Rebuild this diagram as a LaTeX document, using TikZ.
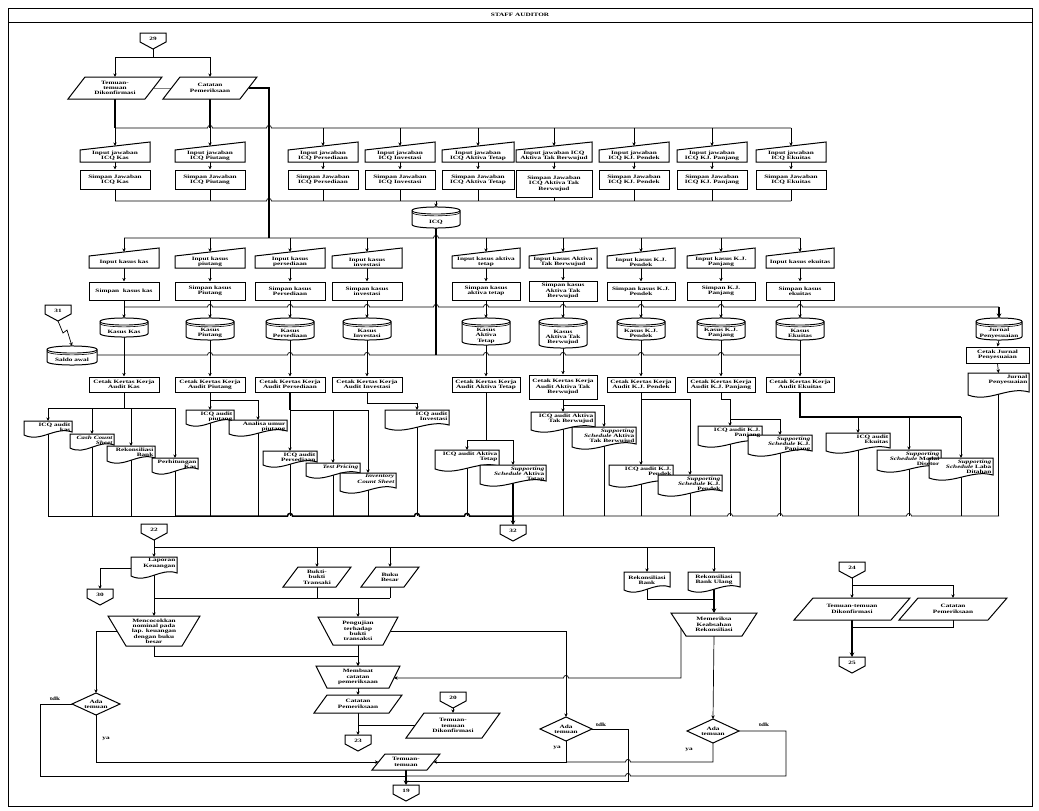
\documentclass[tikz,border=0pt]{standalone}
\usepackage{fontspec}
\setmainfont{Liberation Serif}[FakeStretch=1.45]
\usetikzlibrary{arrows.meta,calc}
\pgfdeclarelayer{bg}
\pgfdeclarelayer{fg}
\pgfsetlayers{bg,main,fg}
\newcommand{\dfont}{\fontsize{5}{5.3}\selectfont\bfseries}
\tikzset{
 ln/.style={line width=0.7pt},
 arr/.style={ln,-{Stealth[length=3.6pt,width=3.4pt]}},
 thk/.style={line width=1.5pt},
 tarr/.style={thk,-{Stealth[length=4.5pt,width=4.5pt]}},
 shpp/.style={draw,fill=white,line width=1pt,line join=miter},
 txt/.style={font=\dfont,align=center,inner sep=0pt},
 lbl/.style={font=\dfont,inner sep=0pt},
}
% process box
\newcommand{\PBox}[6]{\node[shpp,txt,minimum width={(#4-#2)*1pt},minimum height={(#5-#3)*1pt}] (#1) at ({(#2+#4)/2},{(#3+#5)/2}) {#6};}
% manual input
\newcommand{\MIn}[6]{%
 \filldraw[shpp] (#2,{#3+8}) -- (#4,#3) -- (#4,#5) -- (#2,#5) -- cycle;
 \node[txt] (#1) at ({(#2+#4)/2},{(#3+8+#5)/2}) {#6};
 \coordinate (#1-t) at ({(#2+#4)/2},{#3+4});
 \coordinate (#1-b) at ({(#2+#4)/2},#5);}
% documents
\newcommand{\DocShape}[4]{\filldraw[shpp] (#1,#2) -- (#3,#2) -- (#3,{#4-6}) .. controls ({#3-0.35*(#3-#1)},{#4-12}) and ({#1+0.35*(#3-#1)},{#4+5}) .. (#1,{#4-3}) -- cycle;}
\newcommand{\DocR}[6]{%
 \DocShape{#2}{#3}{#4}{#5}
 \begin{pgfonlayer}{fg}
 \node[txt,align=right,anchor=north east] (#1) at ({#4-1.5},{#3+1.4}) {#6};
 \end{pgfonlayer}
 \coordinate (#1-t) at ({(#2+#4)/2},#3);
 \coordinate (#1-b) at ({(#2+#4)/2},{#5-4});}
\newcommand{\DocC}[6]{%
 \DocShape{#2}{#3}{#4}{#5}
 \node[txt] (#1) at ({(#2+#4)/2},{(#3+#5-5)/2}) {#6};
 \coordinate (#1-t) at ({(#2+#4)/2},#3);
 \coordinate (#1-b) at ({(#2+#4)/2},{#5-4});
 \coordinate (#1-l) at (#2,{(#3+#5-5)/2});}
% stored data cylinder
\newcommand{\Cyl}[6]{%
 \filldraw[shpp] (#2,{#3+3.5}) -- (#2,{#5-3.5}) .. controls (#2,{#5+1.2}) and (#4,{#5+1.2}) .. (#4,{#5-3.5}) -- (#4,{#3+3.5}) .. controls (#4,{#3-1.2}) and (#2,{#3-1.2}) .. (#2,{#3+3.5}) -- cycle;
 \draw[line width=0.9pt] (#2,{#3+3.5}) .. controls (#2,{#3+8.2}) and (#4,{#3+8.2}) .. (#4,{#3+3.5});
 \draw[line width=0.6pt] (#2,{#3+5.3}) .. controls (#2,{#3+10}) and (#4,{#3+10}) .. (#4,{#3+5.3});
 \node[txt] (#1) at ({(#2+#4)/2},{(#3+8.5+#5)/2}) {#6};
 \coordinate (#1-t) at ({(#2+#4)/2},#3);
 \coordinate (#1-b) at ({(#2+#4)/2},#5);}
% parallelogram
\newcommand{\Para}[7]{%
 \filldraw[shpp] (#2,#5) -- ({#2+#6},#3) -- (#4,#3) -- ({#4-#6},#5) -- cycle;
 \node[txt] (#1) at ({(#2+#4)/2},{(#3+#5)/2}) {#7};
 \coordinate (#1-t) at ({(#2+#4)/2},#3);
 \coordinate (#1-b) at ({(#2+#4)/2},#5);
 \coordinate (#1-l) at ({#2+#6/2},{(#3+#5)/2});
 \coordinate (#1-r) at ({#4-#6/2},{(#3+#5)/2});}
% manual operation
\newcommand{\Trap}[7]{%
 \filldraw[shpp] (#2,#3) -- (#4,#3) -- ({#4-#6},#5) -- ({#2+#6},#5) -- cycle;
 \node[txt] (#1) at ({(#2+#4)/2},{(#3+#5)/2}) {#7};
 \coordinate (#1-t) at ({(#2+#4)/2},#3);
 \coordinate (#1-b) at ({(#2+#4)/2},#5);
 \coordinate (#1-l) at ({#2+#6/2},{(#3+#5)/2});
 \coordinate (#1-r) at ({#4-#6/2},{(#3+#5)/2});}
% off-page connector
\newcommand{\Off}[4]{%
 \filldraw[shpp] ({#2-13},#3) -- ({#2+13},#3) -- ({#2+13},{#3+9}) -- (#2,{#3+16}) -- ({#2-13},{#3+9}) -- cycle;
 \node[txt] (#1) at (#2,{#3+5.5}) {#4};
 \coordinate (#1-t) at (#2,#3);
 \coordinate (#1-b) at (#2,{#3+16});}
% decision
\newcommand{\Dia}[6]{%
 \filldraw[shpp] ({#2-#4},#3) -- (#2,{#3-#5}) -- ({#2+#4},#3) -- (#2,{#3+#5}) -- cycle;
 \node[txt] (#1) at (#2,#3) {#6};
 \coordinate (#1-t) at (#2,{#3-#5});
 \coordinate (#1-b) at (#2,{#3+#5});
 \coordinate (#1-l) at ({#2-#4},#3);
 \coordinate (#1-r) at ({#2+#4},#3);}
% horizontal bus with line hops
\newcommand{\HBus}[5]{\draw[#1] (#3,#2) \foreach \hx in {#5} { -- ({\hx-2.5},#2) .. controls ({\hx-2.5},{#2-3.4}) and ({\hx+2.5},{#2-3.4}) .. ({\hx+2.5},#2) } -- (#4,#2);}

\begin{document}
\begin{tikzpicture}[x=1pt,y=-1pt]
\useasboundingbox (0,0) rectangle (1039,811);
\draw[line width=0.8pt] (8,8) rectangle (1032,806);
\draw[line width=0.8pt] (8,22) -- (1032,22);
\node[lbl] (hdr) at (520,15) {STAFF AUDITOR};

% ---------------- top part
\Off{o29}{153}{33}{29}
\Para{tdk1}{68}{77}{162}{99}{17}{Temuan-\\temuan\\Dikonfirmasi}
\Para{cp1}{163}{77}{257}{99}{17}{Catatan\\Pemeriksaan}

\MIn{ij1}{80}{142}{150}{162}{Input jawaban\\ICQ Kas}
\MIn{ij2}{175}{142}{245}{162}{Input jawaban\\ICQ Piutang}
\MIn{ij3}{288}{142}{358}{162}{Input jawaban\\ICQ Persediaan}
\MIn{ij4}{365}{142}{435}{162}{Input jawaban\\ICQ Investasi}
\MIn{ij5}{442}{142}{514}{162}{Input jawaban\\ICQ Aktiva Tetap}
\MIn{ij6}{516}{142}{592}{162}{Input jawaban ICQ\\Aktiva Tak Berwujud}
\MIn{ij7}{599}{142}{669}{162}{Input jawaban\\ICQ KJ. Pendek}
\MIn{ij8}{677}{142}{747}{162}{Input jawaban\\ICQ KJ. Panjang}
\MIn{ij9}{756}{142}{826}{162}{Input jawaban\\ICQ Ekuitas}

\PBox{sj1}{80}{170}{150}{189}{Simpan Jawaban\\ICQ Kas}
\PBox{sj2}{175}{170}{245}{189}{Simpan Jawaban\\ICQ Piutang}
\PBox{sj3}{288}{170}{358}{189}{Simpan Jawaban\\ICQ Persediaan}
\PBox{sj4}{365}{170}{435}{189}{Simpan Jawaban\\ICQ Investasi}
\PBox{sj5}{442}{170}{514}{189}{Simpan Jawaban\\ICQ Aktiva Tetap}
\PBox{sj6}{516}{170}{592}{197}{Simpan Jawaban\\ICQ Aktiva Tak\\Berwujud}
\PBox{sj7}{599}{170}{669}{189}{Simpan Jawaban\\ICQ KJ. Pendek}
\PBox{sj8}{677}{170}{747}{189}{Simpan Jawaban\\ICQ KJ. Panjang}
\PBox{sj9}{756}{170}{826}{189}{Simpan Jawaban\\ICQ Ekuitas}

\Cyl{icq}{412}{207}{460}{228}{ICQ}

\MIn{ik1}{89}{248}{159}{268}{Input kasus kas}
\MIn{ik2}{175}{248}{245}{268}{Input kasus\\piutang}
\MIn{ik3}{255}{248}{325}{268}{Input kasus\\persediaan}
\MIn{ik4}{332}{248}{402}{268}{Input kasus\\investasi}
\MIn{ik5}{452}{248}{520}{268}{Input kasus aktiva\\tetap}
\MIn{ik6}{529}{248}{597}{268}{Input kasus Aktiva\\Tak Berwujud}
\MIn{ik7}{607}{248}{675}{268}{Input kasus K.J.\\Pendek}
\MIn{ik8}{687}{248}{755}{268}{Input kasus K.J.\\Panjang}
\MIn{ik9}{766}{248}{834}{268}{Input kasus ekuitas}

\PBox{sk1}{89}{282}{159}{300}{Simpan\ \ kasus kas}
\PBox{sk2}{175}{282}{245}{300}{Simpan kasus\\Piutang}
\PBox{sk3}{255}{282}{325}{300}{Simpan kasus\\Persediaan}
\PBox{sk4}{332}{282}{402}{300}{Simpan kasus\\investasi}
\PBox{sk5}{452}{282}{520}{300}{Simpan kasus\\aktiva tetap}
\PBox{sk6}{529}{281}{597}{301}{Simpan kasus\\Aktiva Tak\\Berwujud}
\PBox{sk7}{607}{282}{675}{300}{Simpan kasus K.J.\\Pendek}
\PBox{sk8}{687}{282}{755}{300}{Simpan K.J.\\Panjang}
\PBox{sk9}{766}{282}{834}{300}{Simpan kasus\\ekuitas}

\Off{o31}{58}{305}{31}
\Cyl{saldo}{47}{346}{97}{365}{Saldo awal}
\Cyl{kc1}{100}{318}{148}{337}{Kasus Kas}
\Cyl{kc2}{186}{318}{234}{340}{Kasus\\Piutang}
\Cyl{kc3}{266}{318}{314}{340}{Kasus\\Persediaan}
\Cyl{kc4}{343}{318}{391}{340}{Kasus\\Investasi}
\Cyl{kc5}{462}{318}{510}{345}{Kasus\\Aktiva\\Tetap}
\Cyl{kc6}{539}{318}{587}{348}{Kasus\\Aktiva Tak\\Berwujud}
\Cyl{kc7}{617}{318}{665}{340}{Kasus K.J.\\Pendek}
\Cyl{kc8}{697}{318}{745}{340}{Kasus K.J.\\Panjang}
\Cyl{kc9}{776}{318}{824}{340}{Kasus\\Ekuitas}
\Cyl{jp}{976}{318}{1022}{340}{Jurnal\\Penyesuaian}

\PBox{ck1}{89}{377}{159}{392}{Cetak Kertas Kerja\\Audit Kas}
\PBox{ck2}{175}{377}{245}{392}{Cetak Kertas Kerja\\Audit Piutang}
\PBox{ck3}{255}{377}{325}{392}{Cetak Kertas Kerja\\Audit Persediaan}
\PBox{ck4}{332}{377}{402}{392}{Cetak Kertas Kerja\\Audit Investasi}
\PBox{ck5}{452}{377}{520}{392}{Cetak Kertas Kerja\\Audit Aktiva Tetap}
\PBox{ck6}{529}{375}{597}{399}{Cetak Kertas Kerja\\Audit Aktiva Tak\\Berwujud}
\PBox{ck7}{607}{377}{675}{392}{Cetak Kertas Kerja\\Audit K.J. Pendek}
\PBox{ck8}{687}{377}{755}{392}{Cetak Kertas Kerja\\Audit K.J. Panjang}
\PBox{ck9}{766}{377}{834}{392}{Cetak Kertas Kerja\\Audit Ekuitas}
\PBox{cjp}{966}{347}{1029}{363}{Cetak Jurnal\\Penyesuaian}
\DocR{jpd}{968}{373}{1029}{398}{Jurnal\\Penyesuaian}

% documents
\DocR{dk1}{24}{421}{72}{438}{ICQ audit\\kas}
\DocR{dk2}{70}{434}{114}{451}{\itshape Cash Count\\\itshape Sheet}
\DocR{dk3}{107}{446}{155}{464}{Rekonsiliasi\\Bank}
\DocR{dk4}{152}{458}{198}{475}{Perhitungan\\Kas}
\DocR{dp1}{186}{410}{234}{427}{ICQ audit\\piutang}
\DocR{dp2}{229}{420}{287}{437}{Analisa umur\\piutang}
\DocR{ds1}{263}{451}{317}{468}{ICQ audit\\Persediaan}
\DocR{ds2}{306}{463}{360}{479}{\itshape Test Pricing}
\DocR{ds3}{340}{473}{396}{494}{\itshape Inventory\\\itshape Count Sheet}
\DocR{di1}{385}{410}{449}{431}{ICQ audit\\Investasi}
\DocR{dt1}{435}{450}{499}{472}{ICQ audit Aktiva\\Tetap}
\DocR{dt2}{480}{465}{546}{487}{\itshape Supporting\\\itshape Schedule\upshape{} Aktiva\\Tetap}
\DocR{db1}{531}{412}{595}{433}{ICQ audit Aktiva\\Tak Berwujud}
\DocR{db2}{572}{427}{636}{450}{\itshape Supporting\\\itshape Schedule\upshape{} Aktiva\\Tak Berwujud}
\DocR{dj1}{609}{465}{673}{488}{ICQ audit K.J.\\Pendek}
\DocR{dj2}{658}{475}{722}{497}{\itshape Supporting\\\itshape Schedule\upshape{} K.J.\\Pendek}
\DocR{dl1}{698}{426}{762}{448}{ICQ audit K.J.\\Panjang}
\DocR{dl2}{748}{435}{812}{457}{\itshape Supporting\\\itshape Schedule\upshape{} K.J.\\Panjang}
\DocR{de1}{826}{433}{890}{454}{ICQ audit\\Ekuitas}
\DocR{de2}{877}{450}{941}{473}{\itshape Supporting\\\itshape Schedule\upshape{} Modal\\Disetor}
\DocR{de3}{929}{458}{993}{481}{\itshape Supporting\\\itshape Schedule\upshape{} Laba\\Ditahan}

\Off{o22}{154}{524}{22}
\Off{o32}{513}{525}{32}

% ---------------- bottom part
\DocR{lk}{131}{557}{177}{579}{Laporan\\Keuangan}
\coordinate (lk-l) at (131,568);
\Off{o30}{100}{589}{30}
\Para{bk}{283}{567}{351}{587}{15}{Bukti-\\bukti\\Transaki}
\Para{bb}{361}{567}{419}{587}{15}{Buku\\Besar}
\Trap{menc}{108}{616}{200}{646}{18}{Mencocokkan\\nominal pada\\lap. keuangan\\dengan buku\\besar}
\Trap{peng}{318}{617}{398}{645}{15}{Pengujian\\terhadap\\bukti\\transaksi}
\Trap{memb}{316}{666}{400}{688}{11}{Membuat\\catatan\\pemeriksaan}
\coordinate (memb-r2) at (394,678);
\Para{cp2}{314}{695}{402}{713}{13}{Catatan\\Pemeriksaan}
\Off{o23}{358}{735}{23}
\Off{o20}{453}{692}{20}
\Para{tdk2}{406}{713}{500}{738}{18}{Temuan-\\temuan\\Dikonfirmasi}
\DocC{rb}{624}{572}{670}{593}{Rekonsiliasi\\Bank}
\DocC{rbu}{688}{572}{740}{593}{Rekonsiliasi\\Bank Ulang}
\Trap{memr}{671}{613}{757}{636}{15}{Memeriksa\\Keabsahan\\Rekonsiliasi}
\coordinate (memr-lb) at (681,628);
\Dia{dL}{96}{704}{24}{11}{Ada\\temuan}
\Dia{dM}{566}{729}{26}{12}{Ada\\temuan}
\Dia{dR}{713}{731}{26}{12}{Ada\\temuan}
\Para{tt}{372}{754}{440}{770}{13}{Temuan-\\temuan}
\Off{o19}{406}{785}{19}
\node[lbl] (t1) at (55,699) {tdk};
\node[lbl] (y1) at (106,739) {ya};
\node[lbl] (t2) at (601,725) {tdk};
\node[lbl] (y2) at (557,748) {ya};
\node[lbl] (t3) at (764,725) {tdk};
\node[lbl] (y3) at (689,750) {ya};

\Off{o24}{852}{562}{24}
\Para{tdk3}{794}{598}{910}{620}{19}{Temuan-temuan\\Dikonfirmasi}
\Para{cp3}{899}{598}{1007}{620}{19}{Catatan\\Pemeriksaan}
\Off{o25}{852}{657}{25}

% ================= connectors
\begin{pgfonlayer}{bg}
\coordinate (j29) at (153,57);
\draw[ln] (o29-b) -- (j29);
\draw[ln] (tdk1-t |- j29) -- (cp1-t |- j29);
\draw[arr] (tdk1-t |- j29) -- (tdk1-t);
\draw[arr] (cp1-t |- j29) -- (cp1-t);
\draw[ln,gray] (tdk1-r) -- (cp1-l);
\coordinate (busA) at (0,128);
\coordinate (busB) at (0,201);
\coordinate (busC) at (0,238);
\coordinate (busD) at (0,355);
\coordinate (busE) at (0,307);
\coordinate (busM) at (0,516);
\draw[thk] (tdk1-b) -- (tdk1-b |- busA);
\draw[thk] (cp1-b) -- (cp1-b |- busA);
\draw[thk] (cp1-r) -- (269,88) -- (269,238);
\HBus{ln}{128}{115}{791}{210,269}
\foreach \n in {1,...,9} {
  \draw[arr] (ij\n-t |- busA) -- (ij\n-t);
  \draw[arr] (ij\n-b) -- (sj\n.north);
  \draw[ln] (sj\n.south) -- (sj\n.south |- busB);
  \draw[arr] (ik\n-t |- busC) -- (ik\n-t);
  \draw[arr] (ik\n-b) -- (sk\n.north);
  \draw[arr] (sk\n.south) -- (kc\n-t);
  \draw[arr] (kc\n-b) -- (ck\n.north);
}
\HBus{ln}{201}{115}{791}{269}
\draw[arr] (icq-t |- busB) -- (icq-t);
\draw[thk] (icq-b) -- (icq-b |- busD);
\HBus{ln}{238}{124}{800}{436}
\HBus{ln}{307}{124}{999}{210,290,367,436,486,563,641,721,800}
\draw[tarr] (jp-t |- busE) -- (jp-t);
\HBus{ln}{355}{97}{800}{210,290,367,486,563,641,721}
\draw[arr] (o31-b) -- (63,333) -- (67,330) -- (saldo-t);
\draw[arr] (jp-b) -- (cjp.north);
\draw[arr] (cjp.south) -- (jpd-t);

% kas
\coordinate (kb) at (0,408);
\draw[ln] (ck1.south) -- (ck1.south |- kb);
\draw[ln] (dk1-t |- kb) -- (dk4-t |- kb);
\foreach \n in {dk1,dk2,dk3,dk4} \draw[arr] (\n-t |- kb) -- (\n-t);
% piutang
\coordinate (pb) at (0,400);
\draw[arr] (ck2.south) -- (dp1-t);
\draw[arr] (ck2.south |- pb) -- (dp2-t |- pb) -- (dp2-t);
% persediaan
\coordinate (sb) at (0,410);
\draw[thk] (ck3.south) -- (ck3.south |- sb);
\draw[ln] (ds1-t |- sb) -- (ds3-t |- sb);
\foreach \n in {ds1,ds2,ds3} \draw[arr] (\n-t |- sb) -- (\n-t);
% investasi
\coordinate (ib) at (0,403);
\draw[arr] (ck4.south) -- (ck4.south |- ib) -- (di1-t |- ib) -- (di1-t);
% aktiva tetap
\coordinate (tb) at (0,440);
\draw[ln] (ck5.south) -- (ck5.south |- tb);
\draw[ln] (dt1-t |- tb) -- (dt2-t |- tb);
\foreach \n in {dt1,dt2} \draw[arr] (\n-t |- tb) -- (\n-t);
% aktiva tak berwujud
\coordinate (bb2) at (0,405);
\draw[arr] (ck6.south) -- (db1-t);
\draw[arr] (ck6.south |- bb2) -- (db2-t |- bb2) -- (db2-t);
% kj pendek
\coordinate (jb) at (0,399);
\draw[arr] (ck7.south) -- (dj1-t);
\draw[arr] (ck7.south |- jb) -- (dj2-t |- jb) -- (dj2-t);
% kj panjang
\coordinate (lb) at (0,419);
\draw[arr] (ck8.south) -- (ck8.south |- jb) -- (dl1-t |- jb) -- (dl1-t);
\draw[arr] (dl1-t |- lb) -- (dl2-t |- lb) -- (dl2-t);
% ekuitas
\coordinate (eb) at (0,417);
\draw[thk] (ck9.south) -- (ck9.south |- eb) -- (de3-t |- eb);
\foreach \n in {de1,de2,de3} \draw[arr] (\n-t |- eb) -- (\n-t);
% to bottom bus
\foreach \n in {dk1,dk2,dk3,dk4,dp1,dp2,ds1,ds2,ds3,di1,dt1,db1,db2,dj1,dj2,dl1,dl2,de1,de2,de3,jpd}
  \draw[ln] (\n-b) -- (\n-b |- busM);
\draw[thk] (dt2-b) -- (dt2-b |- busM);
\draw[ln] (48,516) -- (175,516);
\HBus{thk}{516}{175}{513}{290,417,467}
\HBus{ln}{516}{513}{999}{730,780,909}
\draw[tarr] (dt2-b |- busM) -- (o32-t);

% bottom part
\coordinate (b22) at (0,547);
\draw[ln] (o22-b) -- (o22-b |- b22) -- (rbu-t |- b22);
\foreach \n in {lk,bk,bb,rb,rbu} \draw[arr] (\n-t |- b22) -- (\n-t);
\draw[arr] (lk-l) -- (o30-t |- lk-l) -- (o30-t);
\draw[arr] (lk-b) -- (menc-t);
\coordinate (b598) at (0,598);
\draw[ln] (lk-b |- b598) -- (bb-b |- b598);
\draw[ln] (bk-b) -- (bk-b |- b598);
\draw[ln] (bb-b) -- (bb-b |- b598);
\draw[arr] (peng-t |- b598) -- (peng-t);
\coordinate (b656) at (0,656);
\draw[arr] (menc-b) -- (menc-b |- b656) -- (memb-t |- b656) -- (memb-t);
\draw[arr] (peng-b) -- (memb-t);
\draw[arr] (menc-l) -- (dL-t |- menc-l) -- (dL-t);
\draw[arr] (peng-r) -- (dM-t |- peng-r) -- (dM-t);
\draw[arr] (memr-lb) -- (681,678) -- (568.5,678) .. controls (568.5,674.6) and (563.5,674.6) .. (563.5,678) -- (memb-r2);
\draw[arr] (memb-b) -- (cp2-t);
\draw[arr] (cp2-b) -- (o23-t);
\draw[ln] (tdk2-l) -- (cp2-b |- tdk2-l);
\draw[arr] (o20-b) -- (tdk2-t);
\coordinate (b599) at (0,599);
\draw[ln] (rb-b) -- (rb-b |- b599) -- (rbu-b |- b599);
\draw[tarr] (rbu-b) -- (memr-t);
\draw[arr] (memr-b) -- (dR-t);
\coordinate (b762) at (0,762);
\draw[arr] (dL-b) -- (dL-b |- b762) -- (tt-l);
\draw[arr] (dM-b) -- (dM-b |- b762) -- (tt-r);
\draw[ln] (dR-b) -- (713,762) -- (630.5,762) .. controls (630.5,758.6) and (625.5,758.6) .. (625.5,762) -- (566,762);
\draw[ln] (dL-l) -- (40,704) -- (40,776) -- (406,776);
\draw[ln] (dR-r) -- (786,731) -- (786,776) -- (630.5,776) .. controls (630.5,772.6) and (625.5,772.6) .. (625.5,776) -- (406,776);
\draw[ln] (dM-r) -- (628,729) -- (628,781) -- (406,781);
\draw[tarr] (tt-b) -- (o19-t);
% right part
\coordinate (b585) at (0,585);
\coordinate (b627) at (0,627);
\draw[ln] (o24-b) -- (o24-b |- b585) -- (cp3-t |- b585);
\draw[arr] (tdk3-t |- b585) -- (tdk3-t);
\draw[arr] (cp3-t |- b585) -- (cp3-t);
\draw[ln] (cp3-b) -- (cp3-b |- b627) -- (tdk3-b |- b627);
\draw[tarr] (tdk3-b) -- (o25-t);
\end{pgfonlayer}
\end{tikzpicture}
\end{document}
